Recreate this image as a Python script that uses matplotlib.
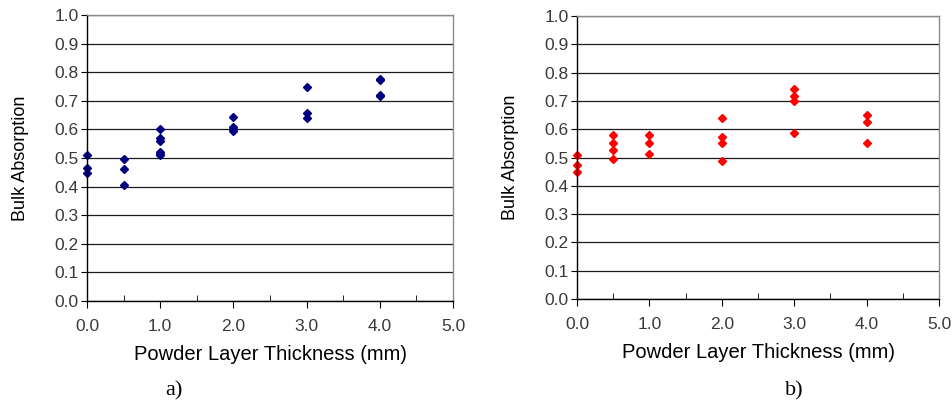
"""Bulk absorption vs powder layer thickness, two panels."""
import matplotlib
matplotlib.use("Agg")
import matplotlib.pyplot as plt
from matplotlib.ticker import MultipleLocator

# panel a) navy series
x_a = [0.0, 0.0, 0.0,
       0.5, 0.5, 0.5,
       1.0, 1.0, 1.0, 1.0, 1.0, 1.0,
       2.0, 2.0, 2.0, 2.0,
       3.0, 3.0, 3.0,
       4.0, 4.0, 4.0, 4.0]
y_a = [0.509, 0.464, 0.449,
       0.498, 0.460, 0.405,
       0.603, 0.570, 0.558, 0.520, 0.514, 0.510,
       0.645, 0.610, 0.600, 0.593,
       0.748, 0.657, 0.640,
       0.776, 0.771, 0.721, 0.717]

# panel b) red series
x_b = [0.0, 0.0, 0.0,
       0.5, 0.5, 0.5, 0.5,
       1.0, 1.0, 1.0,
       2.0, 2.0, 2.0, 2.0,
       3.0, 3.0, 3.0, 3.0,
       4.0, 4.0, 4.0]
y_b = [0.509, 0.472, 0.449,
       0.581, 0.552, 0.525, 0.496,
       0.581, 0.550, 0.514,
       0.638, 0.574, 0.550, 0.488,
       0.742, 0.716, 0.698, 0.585,
       0.650, 0.624, 0.553]

x_ticks = [0.0, 1.0, 2.0, 3.0, 4.0, 5.0]
y_ticks = [i / 10 for i in range(11)]
panel_labels = ["a)", "b)"]

TICK_COLOR = "#3a3a3a"


def style_axes(ax):
    ax.set_xlim(0, 5)
    ax.set_ylim(0, 1)
    ax.set_xticks(x_ticks)
    ax.set_xticklabels([f"{v:.1f}" for v in x_ticks])
    ax.xaxis.set_minor_locator(MultipleLocator(0.5))
    ax.set_yticks(y_ticks)
    ax.set_yticklabels([f"{v:.1f}" for v in y_ticks])
    ax.yaxis.grid(True, color="#1a1a1a", lw=0.9)
    ax.set_axisbelow(True)
    for side in ("top", "right"):
        ax.spines[side].set_color("#8c8c8c")
        ax.spines[side].set_linewidth(1.0)
    for side in ("left", "bottom"):
        ax.spines[side].set_color("black")
        ax.spines[side].set_linewidth(1.0)
    ax.tick_params(axis="x", which="major", direction="out", length=5,
                   labelsize=12.5, labelcolor=TICK_COLOR, pad=8)
    ax.tick_params(axis="x", which="minor", direction="in", length=4)
    ax.tick_params(axis="y", which="major", direction="out", length=4,
                   labelsize=12.5, labelcolor=TICK_COLOR, pad=2)
    ax.set_xlabel("Powder Layer Thickness (mm)", fontsize=14.5, labelpad=8)
    ax.set_ylabel("Bulk Absorption", fontsize=13, labelpad=18)


def main() -> None:
    plt.rcParams["font.family"] = ["Liberation Sans", "DejaVu Sans"]
    fig = plt.figure(figsize=(9.52, 4.05), dpi=100)

    ax_a = fig.add_axes([87 / 952, 104 / 405, 366 / 952, 286 / 405])
    ax_b = fig.add_axes([577 / 952, 106 / 405, 362 / 952, 283 / 405])

    ax_a.plot(x_a, y_a, linestyle="none", marker="D", ms=4.2,
              color="#000080", clip_on=False)
    ax_b.plot(x_b, y_b, linestyle="none", marker="D", ms=4.2,
              color="#ff0000", clip_on=False)

    for ax in (ax_a, ax_b):
        style_axes(ax)

    fig.text(174 / 952, 1 - 391 / 405, panel_labels[0], ha="center",
             va="center", fontsize=16, family=["Liberation Serif", "DejaVu Serif"])
    fig.text(794 / 952, 1 - 391 / 405, panel_labels[1], ha="center",
             va="center", fontsize=16, family=["Liberation Serif", "DejaVu Serif"])

    fig.savefig("out.png", dpi=100)


if __name__ == "__main__":
    main()
